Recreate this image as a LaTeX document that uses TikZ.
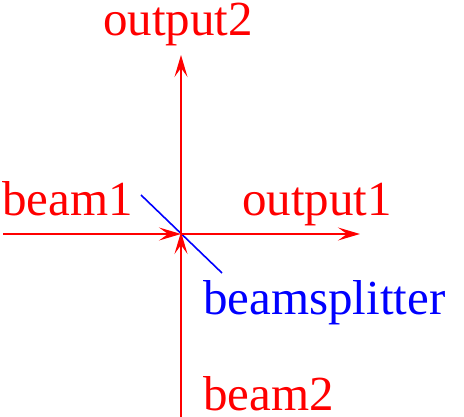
\documentclass[tikz,border=0pt]{standalone}
\usepackage{fontspec}
\setmainfont{Liberation Serif}
\usetikzlibrary{arrows.meta}
\begin{document}
\begin{tikzpicture}[x=1pt,y=-1pt,
  beam/.style={draw=red, line width=1.4pt, -{Stealth[length=22pt,width=13pt,inset=9pt]}},
  lbl/.style={anchor=base west, inner sep=0pt, font=\fontsize{49}{52}\selectfont},
  redlbl/.style={lbl, text=red},
  bluelbl/.style={lbl, text=blue}]
\useasboundingbox (0,0) rectangle (464,417);
\coordinate (c) at (181,234);
\coordinate (in1) at (3,234);
\coordinate (in2) at (181,417);
\coordinate (out1) at (360,234);
\coordinate (out2) at (181,55);
\coordinate (bs1) at (141,195);
\coordinate (bs2) at (222,273);
\draw[blue, line width=1.6pt] (bs1) -- (bs2);
\draw[beam] (in1) -- (c);
\draw[beam] (in2) -- ([yshift=2]c);
\draw[beam] (c) -- (out1);
\draw[beam] (c) -- (out2);
\node[redlbl] (t2) at (103,36) {output2};
\node[redlbl] (b1) at (2,216) {beam1};
\node[redlbl] (t1) at (242,216) {output1};
\node[bluelbl] (bs) at (203,315) {beamsplitter};
\node[redlbl] (b2) at (203,410) {beam2};
\end{tikzpicture}
\end{document}
